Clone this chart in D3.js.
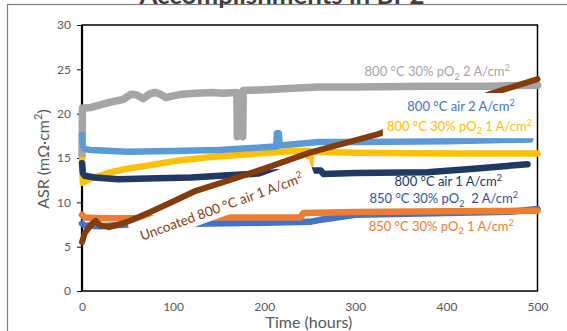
<!DOCTYPE html>
<html>
<head>
<meta charset="utf-8">
<script src="https://cdn.jsdelivr.net/npm/d3@7"></script>
<style>
body { margin: 0; background: #fff; }
svg { display: block; font-family: Lato, "Open Sans", sans-serif; }
</style>
</head>
<body>
<svg id="chart" width="567" height="331"></svg>
<script>
// axis ticks
var timeTicks = [0, 100, 200, 300, 400, 500];
var asrTicks = [0, 5, 10, 15, 20, 25, 30];

// [hours, ASR mOhm.cm2]
var gray800pO2_2A = [[0,15.2],[0.5,20.6],[10,20.7],[20,21.0],[31,21.3],[45,21.6],[54,22.2],[60,22.1],[67,21.7],
    [74,22.2],[80,22.4],[86,22.2],[92,21.8],[100,22.0],[110,22.2],[125,22.3],[142,22.4],[155,22.3],[170,22.4],
    [170.5,17.4],[173,17.6],[176.5,17.4],[177,22.6],[200,22.7],[259,23.0],[300,23.0],[380,23.1],[445,23.1],[500,23.2]];
var lightBlue800air_2A = [[0,17.6],[1,16.3],[3,16.0],[10,15.9],[50,15.7],[100,15.8],[150,15.9],[200,16.2],[213,16.3],
    [214,17.8],[216,17.8],[217,16.4],[260,16.8],[300,16.8],[400,16.9],[450,17.0],[492,17.1]];
var yellow800pO2_1A = [[0,14.8],[1,12.2],[4,12.4],[10,12.7],[20,13.0],[32,13.4],[50,13.8],[75,14.2],[105,14.7],
    [140,15.1],[179,15.4],[234,15.8],[249,15.8],[250,12.6],[251,15.7],[300,15.6],[400,15.5],[500,15.5]];
var navy800air_1A = [[0,14.4],[1,13.3],[3,13.0],[14,12.8],[40,12.6],[71,12.7],[120,12.8],[170,13.1],[217,13.4],
    [250,13.6],[262,13.6],[265,13.2],[300,13.3],[379,13.4],[430,13.8],[489,14.3]];
var blue850pO2_2A = [[0,7.6],[3,7.4],[20,7.3],[50,7.5],[140,7.6],[200,7.7],[250,7.8],[260,8.0],[300,8.6],
    [400,8.8],[470,8.95],[500,9.25]];
var orange850pO2_1A = [[0,8.6],[3,8.3],[20,8.2],[60,8.2],[100,8.2],[150,8.3],[200,8.3],[240,8.3],[243,8.8],
    [300,8.9],[400,9.0],[500,9.05]];
var brownUncoated800air_1A = [[0,5.5],[3,6.5],[10,7.5],[15,7.9],[20,7.4],[30,7.2],[50,7.8],[75,8.9],[100,10.1],
    [125,11.3],[162,12.5],[200,13.8],[250,15.6],[325,17.7],[400,20.4],[450,22.3],[500,23.9]];

// series label texts (_{} subscript, ^{} superscript)
var labelTexts = [
    "800 °C 30% pO_{2} 2 A/cm^{2}",
    "800 °C air 2 A/cm^{2}",
    "800 °C 30% pO_{2} 1 A/cm^{2}",
    "800 °C air 1 A/cm^{2}",
    "850 °C 30% pO_{2}  2 A/cm^{2}",
    "850 °C 30% pO_{2} 1 A/cm^{2}",
    "Uncoated 800 °C air 1 A/cm^{2}"
];

var series = [
    {data: gray800pO2_2A, color: "#A5A5A5", w: 7.5},
    {data: yellow800pO2_1A, color: "#FFC000", w: 6.5},
    {data: navy800air_1A, color: "#203864", w: 6.5},
    {data: lightBlue800air_2A, color: "#5B9BD5", w: 6.5},
    {data: blue850pO2_2A, color: "#4472C4", w: 6.5},
    {data: orange850pO2_1A, color: "#ED7D31", w: 6.5},
    {data: brownUncoated800air_1A, color: "#843C0C", w: 6}
];

// label anchors in data units (right end of text, baseline)
var labelLayout = [
    {t: 469.5, v: 24.2, color: "#A5A5A5", box: false},
    {t: 475, v: 20.3, color: "#4472C4", box: true},
    {t: 494, v: 18.1, color: "#FFC000", box: true},
    {t: 461, v: 11.8, color: "#203864", box: false},
    {t: 478.5, v: 9.9, color: "#2F5597", box: false},
    {t: 474, v: 6.8, color: "#ED7D31", box: false}
];

var svg = d3.select("#chart");

var x = d3.scaleLinear().domain([0, 500]).range([82, 537.5]);
var y = d3.scaleLinear().domain([0, 30]).range([291, 25]);

function rich(textSel, str, size) {
    var parts = str.split(/(_\{[^}]*\}|\^\{[^}]*\})/).filter(function(p) { return p !== ""; });
    var shift = 0;
    parts.forEach(function(p) {
        var ts = textSel.append("tspan");
        var target = 0, txt = p;
        if (p[0] === "_") { target = size * 0.28; txt = p.slice(2, -1); ts.attr("font-size", size * 0.7); }
        else if (p[0] === "^") { target = -size * 0.38; txt = p.slice(2, -1); ts.attr("font-size", size * 0.7); }
        ts.attr("dy", target - shift).text(txt);
        shift = target;
    });
}

// outer chart border
svg.append("rect")
    .attr("x", 7.5).attr("y", 4.5)
    .attr("width", 620).attr("height", 400)
    .attr("fill", "none")
    .attr("stroke", "#7f7f7f")
    .attr("stroke-width", 1.2);

// title (cut off at the top, as in the source)
svg.append("text")
    .attr("x", 282).attr("y", 3.5)
    .attr("text-anchor", "middle")
    .attr("font-size", 25)
    .attr("font-weight", "bold")
    .attr("fill", "#404040")
    .attr("textLength", 285)
    .attr("lengthAdjust", "spacingAndGlyphs")
    .text("Accomplishments in BP2");

// axes
var gy = svg.append("g")
    .attr("transform", "translate(82,0)")
    .call(d3.axisLeft(y).tickValues(asrTicks).tickSize(5).tickPadding(6));
gy.attr("font-family", null).attr("font-size", null);
gy.select(".domain").remove();
gy.selectAll("line").attr("stroke", "#000");
gy.selectAll("text").attr("font-size", 12).attr("fill", "#595959");

var gx = svg.append("g")
    .attr("transform", "translate(0,291)")
    .call(d3.axisBottom(x).tickValues(timeTicks).tickSize(0).tickPadding(11));
gx.attr("font-family", null).attr("font-size", null);
gx.select(".domain").remove();
gx.selectAll("text").attr("font-size", 12).attr("fill", "#595959");

// plot frame
svg.append("rect")
    .attr("x", x(0)).attr("y", y(30))
    .attr("width", x(500) - x(0)).attr("height", y(0) - y(30))
    .attr("fill", "none")
    .attr("stroke", "#000")
    .attr("stroke-width", 1.5);
svg.append("line")
    .attr("x1", x(0)).attr("x2", x(0))
    .attr("y1", y(30)).attr("y2", y(0))
    .attr("stroke", "#000").attr("stroke-width", 2.2);

// axis titles
var yTitle = svg.append("text")
    .attr("transform", "translate(48.5,159) rotate(-90)")
    .attr("text-anchor", "middle")
    .attr("font-size", 16)
    .attr("fill", "#595959");
rich(yTitle, "ASR (mΩ·cm^{2})", 16);

svg.append("text")
    .attr("x", 309).attr("y", 328)
    .attr("text-anchor", "middle")
    .attr("font-size", 16)
    .attr("fill", "#595959")
    .text("Time (hours)");

// data lines
var line = d3.line().x(d => x(d[0])).y(d => y(d[1]));

svg.append("g").selectAll("path")
    .data(series)
    .enter()
    .append("path")
    .attr("d", d => line(d.data))
    .attr("fill", "none")
    .attr("stroke", d => d.color)
    .attr("stroke-width", d => d.w)
    .attr("stroke-linecap", "round")
    .attr("stroke-linejoin", "round");

// horizontal series labels
labelLayout.forEach(function(l, i) {
    var g = svg.append("g");
    var t = g.append("text")
        .attr("x", x(l.t)).attr("y", y(l.v))
        .attr("text-anchor", "end")
        .attr("font-size", 13)
        .attr("fill", l.color)
        .style("white-space", "pre");
    rich(t, labelTexts[i], 13);
    if (l.box) {
        var b = t.node().getBBox();
        g.insert("rect", "text")
            .attr("x", b.x - 4).attr("y", b.y - 4)
            .attr("width", b.width + 8).attr("height", b.height + 6)
            .attr("fill", "#fff");
    }
});

// rotated label for the uncoated sample
var rg = svg.append("g")
    .attr("transform", "translate(" + x(66) + "," + y(5.67) + ") rotate(-20)");
var rt = rg.append("text")
    .attr("x", 0).attr("y", 0)
    .attr("font-size", 13.5)
    .attr("fill", "#843C0C");
rich(rt, labelTexts[6], 13.5);
var rl = rt.node().getComputedTextLength();
rg.insert("rect", "text")
    .attr("x", -8).attr("y", -20)
    .attr("width", rl + 20).attr("height", 25)
    .attr("fill", "#fff");
</script>
</body>
</html>
